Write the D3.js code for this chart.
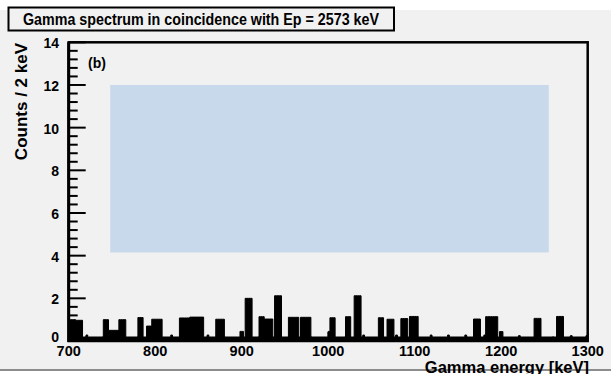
<!DOCTYPE html>
<html>
<head>
<meta charset="utf-8">
<script src="https://cdn.jsdelivr.net/npm/d3@7"></script>
<style>
  html, body { margin: 0; padding: 0; background: #ffffff; }
  svg { display: block; }
  text { font-family: "Liberation Sans", Arial, Helvetica, sans-serif; font-weight: bold; fill: #000; }
</style>
</head>
<body>
<svg id="chart" width="611" height="374"></svg>
<script>
// ---- data ----
const titleText = "Gamma spectrum in coincidence with Ep = 2573 keV";
const xTitle = "Gamma energy [keV]";
const yTitle = "Counts / 2 keV";
const panelLabel = "(b)";
const xDomain = [700, 1300];
const yDomain = [0, 14];
const binWidth = 2;
const xTickValues = [700, 800, 900, 1000, 1100, 1200, 1300];
const yTickValues = [0, 2, 4, 6, 8, 10, 12, 14];
// histogram segments (bin ranges in keV, content per bin)
const segStart = [700, 708, 720, 740, 746, 758, 780, 790, 796, 818, 828, 840, 860, 870, 898, 904, 920, 926, 938, 954, 968,
                  1000, 1002, 1020, 1030, 1040, 1058, 1068, 1078, 1084, 1094, 1118, 1138, 1158, 1168, 1180, 1182, 1190, 1198,
                  1220, 1238, 1264, 1280, 1298];
const segEnd   = [708, 716, 722, 746, 758, 766, 786, 796, 808, 820, 840, 856, 862, 880, 902, 912, 926, 936, 946, 966, 980,
                  1002, 1008, 1026, 1038, 1042, 1064, 1076, 1080, 1092, 1104, 1120, 1140, 1160, 1176, 1182, 1190, 1196, 1202,
                  1222, 1246, 1272, 1282, 1300];
const segCounts = [1.0, 0.97, 0.28, 1.0, 0.5, 1.0, 1.1, 0.7, 1.02, 0.28, 1.08, 1.12, 0.28, 1.02, 0.45, 2.0, 1.14, 1.03, 2.12, 1.11, 1.11,
                   0.45, 1.09, 1.14, 2.12, 0.28, 1.09, 1.02, 0.28, 1.05, 1.15, 0.28, 0.28, 0.28, 1.03, 0.28, 1.14, 1.14, 0.44,
                   0.25, 1.06, 1.15, 0.25, 0.25];
// light-blue inset placeholder box (data coordinates)
const insetX = [748, 1255];
const insetY = [4.15, 12];

// ---- build bins ----
const bins = [];
for (let e = xDomain[0]; e < xDomain[1]; e += binWidth) {
  let c = 0;
  for (let i = 0; i < segStart.length; i++) {
    if (e >= segStart[i] && e < segEnd[i]) { c = segCounts[i]; break; }
  }
  bins.push({ x: e, c: c });
}
bins.push({ x: xDomain[1], c: bins[bins.length - 1].c });

// ---- layout ----
const svg = d3.select("#chart");
const W = 611, H = 374;
const plot = { left: 68.7, right: 587.7, top: 42.3, bottom: 341 };
const x = d3.scaleLinear().domain(xDomain).range([plot.left, plot.right]);
const y = d3.scaleLinear().domain(yDomain).range([plot.bottom, plot.top]);

// canvas background
svg.append("rect").attr("x", 0).attr("y", 10).attr("width", W).attr("height", 359).attr("fill", "#f1f1f1");
svg.append("rect").attr("x", 0).attr("y", 369).attr("width", W).attr("height", 2).attr("fill", "#8c8c8c");

// inset box
svg.append("rect")
  .attr("x", x(insetX[0])).attr("y", y(insetY[1]))
  .attr("width", x(insetX[1]) - x(insetX[0]))
  .attr("height", y(insetY[0]) - y(insetY[1]))
  .attr("fill", "#c9d9ec");

// histogram
const area = d3.area()
  .x(d => x(d.x))
  .y0(y(0))
  .y1(d => y(d.c))
  .curve(d3.curveStepAfter);
svg.append("path").datum(bins).attr("d", area)
  .attr("fill", "#000").attr("stroke", "#000").attr("stroke-width", 1);
// zero-level line of the histogram (thick)
svg.append("rect")
  .attr("x", x(xDomain[0])).attr("y", y(0) - 4.5)
  .attr("width", x(xDomain[1]) - x(xDomain[0])).attr("height", 5.5)
  .attr("fill", "#000");

// x ticks (pointing up, inside)
const xMinor = d3.range(xDomain[0], xDomain[1] + 0.001, 20).filter(v => (v - 700) % 100 !== 0);
svg.append("g").selectAll("line.xmaj").data(xTickValues).join("line")
  .attr("x1", d => x(d)).attr("x2", d => x(d))
  .attr("y1", y(0)).attr("y2", y(0) - 9)
  .attr("stroke", "#000").attr("stroke-width", 1.5);
svg.append("g").selectAll("line.xmin").data(xMinor).join("line")
  .attr("x1", d => x(d)).attr("x2", d => x(d))
  .attr("y1", y(0)).attr("y2", y(0) - 4.5)
  .attr("stroke", "#000").attr("stroke-width", 1.5);

// y ticks (pointing right, inside)
const yMinor = d3.range(0, 14.001, 0.4).filter(v => Math.abs(v / 2 - Math.round(v / 2)) > 1e-6);
svg.append("g").selectAll("line").data(yTickValues).join("line")
  .attr("x1", x(xDomain[0])).attr("x2", x(xDomain[0]) + 17)
  .attr("y1", d => y(d)).attr("y2", d => y(d))
  .attr("stroke", "#000").attr("stroke-width", 2);
svg.append("g").selectAll("line").data(yMinor).join("line")
  .attr("x1", x(xDomain[0])).attr("x2", x(xDomain[0]) + 9)
  .attr("y1", d => y(d)).attr("y2", d => y(d))
  .attr("stroke", "#000").attr("stroke-width", 2);

// frame
svg.append("rect")
  .attr("x", x(xDomain[0])).attr("y", y(yDomain[1]))
  .attr("width", x(xDomain[1]) - x(xDomain[0]))
  .attr("height", y(yDomain[0]) - y(yDomain[1]))
  .attr("fill", "none").attr("stroke", "#000").attr("stroke-width", 2.5);
svg.append("line")
  .attr("x1", x(xDomain[0])).attr("x2", x(xDomain[0]))
  .attr("y1", y(yDomain[1])).attr("y2", y(yDomain[0]) + 1)
  .attr("stroke", "#000").attr("stroke-width", 3);

// tick labels
svg.append("g").selectAll("text").data(yTickValues).join("text")
  .attr("x", 59).attr("y", d => y(d) + (d === 0 ? -4 : 1))
  .attr("text-anchor", "end").attr("dominant-baseline", "central")
  .attr("font-size", 14).text(d => d);
svg.append("g").selectAll("text").data(xTickValues).join("text")
  .attr("x", d => x(d)).attr("y", 356)
  .attr("text-anchor", "middle").attr("font-size", 14.5).text(d => d);

// axis titles
svg.append("text").attr("x", 589).attr("y", 372.5)
  .attr("text-anchor", "end").attr("font-size", 16.5).text(xTitle);
svg.append("text")
  .attr("transform", "translate(26.5,43) rotate(-90)")
  .attr("text-anchor", "end").attr("font-size", 17).text(yTitle);

// panel label
svg.append("text").attr("x", 97).attr("y", 68).attr("text-anchor", "middle")
  .attr("font-size", 14).text(panelLabel);

// title box
svg.append("rect").attr("x", 8.5).attr("y", 7.5).attr("width", 385.5).attr("height", 23)
  .attr("fill", "#f1f1f1").attr("stroke", "#000").attr("stroke-width", 2);
svg.append("text").attr("x", 23).attr("y", 24.5)
  .attr("font-size", 16.5)
  .attr("textLength", 356).attr("lengthAdjust", "spacingAndGlyphs")
  .text(titleText);
</script>
</body>
</html>
